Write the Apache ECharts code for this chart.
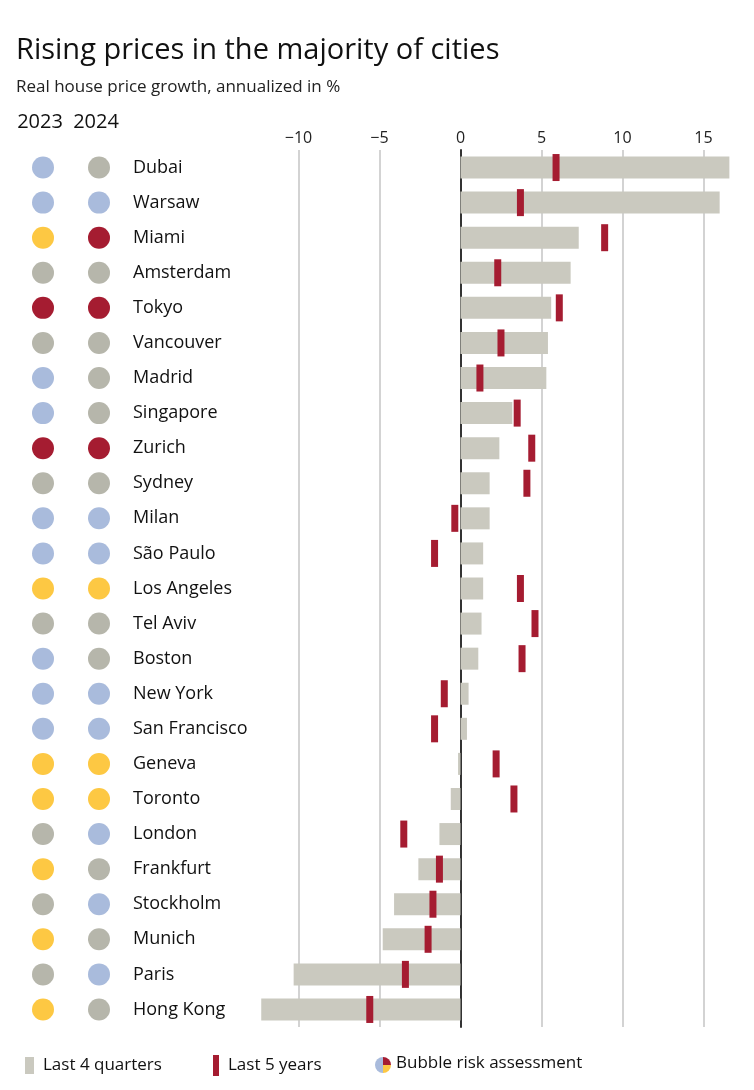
<!DOCTYPE html>
<html>
<head>
<meta charset="utf-8">
<script src="https://cdn.jsdelivr.net/npm/echarts@6/dist/echarts.min.js"></script>
<style>
  html, body { margin: 0; padding: 0; background: #fff; }
  #chart { width: 754px; height: 1090px; }
</style>
</head>
<body>
<div id="chart"></div>
<script>
const cities = ['Dubai', 'Warsaw', 'Miami', 'Amsterdam', 'Tokyo', 'Vancouver', 'Madrid', 'Singapore', 'Zurich', 'Sydney',
  'Milan', 'São Paulo', 'Los Angeles', 'Tel Aviv', 'Boston', 'New York', 'San Francisco', 'Geneva', 'Toronto',
  'London', 'Frankfurt', 'Stockholm', 'Munich', 'Paris', 'Hong Kong']
const last4q = [16.6, 16.0, 7.3, 6.8, 5.6, 5.4, 5.3, 3.2, 2.4, 1.8, 1.8, 1.4, 1.4, 1.3, 1.1, 0.5, 0.4, -0.15,
  -0.6, -1.3, -2.6, -4.1, -4.8, -10.3, -12.3]
const last5y = [5.9, 3.7, 8.9, 2.3, 6.1, 2.5, 1.2, 3.5, 4.4, 4.1, -0.35, -1.6, 3.7, 4.6, 3.8, -1.0, -1.6, 2.2,
  3.3, -3.5, -1.3, -1.7, -2.0, -3.4, -5.6]
// bubble risk: low / moderate / over(valued) / bubble
const risk2023 = ['low', 'low', 'over', 'mod', 'bubble', 'mod', 'low', 'low', 'bubble', 'mod', 'low', 'low', 'over',
  'mod', 'low', 'low', 'low', 'over', 'over', 'mod', 'over', 'mod', 'over', 'mod', 'over']
const risk2024 = ['mod', 'low', 'bubble', 'mod', 'bubble', 'mod', 'mod', 'mod', 'bubble', 'mod', 'low', 'low', 'over',
  'mod', 'mod', 'low', 'low', 'over', 'over', 'low', 'mod', 'low', 'mod', 'low', 'mod']
const years = ['2023', '2024']
const ticks = [-10, -5, 0, 5, 10, 15]

const riskColor = { low: '#a9bbdc', mod: '#b6b6ab', over: '#fdc843', bubble: '#a51c31' }
const font = '"Open Sans", sans-serif'

const chart = echarts.init(document.getElementById('chart'))

function dots(year, risks) {
  return cities.map((c, i) => ({ value: [year, c], itemStyle: { color: riskColor[risks[i]], opacity: 1 } }))
}

chart.setOption({
  animation: false,
  textStyle: { fontFamily: font, color: '#111' },
  title: {
    text: 'Rising prices in the majority of cities',
    subtext: 'Real house price growth, annualized in %',
    left: 11,
    top: 31,
    itemGap: 14,
    textStyle: { fontFamily: font, fontSize: 29, fontWeight: 'normal', color: '#111' },
    subtextStyle: { fontFamily: font, fontSize: 17, color: '#222' }
  },
  grid: [
    { left: 258, right: 23, top: 150, bottom: 63 },
    { left: 15, width: 112, top: 150, bottom: 63 }
  ],
  xAxis: [
    {
      type: 'value', gridIndex: 0, position: 'top',
      min: -12.5, max: 16.7,
      axisLine: { show: false },
      axisTick: { show: false, customValues: ticks },
      axisLabel: {
        customValues: ticks, margin: 4, fontSize: 16, color: '#222',
        formatter: v => String(v).replace('-', '\u2212')
      },
      splitLine: { show: true, lineStyle: { color: '#c4c4c4', width: 1.5 } }
    },
    {
      type: 'category', gridIndex: 1, position: 'top', data: years,
      axisLine: { show: false }, axisTick: { show: false },
      axisLabel: { interval: 0, margin: 18, fontSize: 20, color: '#111', padding: [0, 6, 0, 0] }
    }
  ],
  yAxis: [
    {
      type: 'category', gridIndex: 0, inverse: true, data: cities,
      axisLine: { show: true, onZero: true, lineStyle: { color: '#333', width: 2 } },
      axisTick: { show: false }, axisLabel: { show: false }, splitLine: { show: false }
    },
    {
      type: 'category', gridIndex: 1, inverse: true, data: cities, position: 'right',
      axisLine: { show: false }, axisTick: { show: false },
      axisLabel: { interval: 0, align: 'left', margin: 6, fontSize: 18, color: '#111' }
    }
  ],
  legend: [
    {
      left: 20, top: 1052, itemWidth: 9, itemHeight: 17, itemGap: 10,
      icon: 'rect', data: ['Last 4 quarters'],
      textStyle: { fontSize: 17, color: '#111', padding: [0, 0, 0, 4] }
    },
    {
      left: 208, top: 1050, itemWidth: 6, itemHeight: 21,
      icon: 'rect', data: ['Last 5 years'],
      textStyle: { fontSize: 17, color: '#111', padding: [0, 0, 0, 4] }
    }
  ],
  graphic: [
    {
      type: 'group', left: 375, top: 1055,
      children: [
        { type: 'sector', shape: { cx: 8, cy: 8, r: 8, startAngle: Math.PI / 2, endAngle: Math.PI * 1.5 }, style: { fill: riskColor.low } },
        { type: 'sector', shape: { cx: 8, cy: 8, r: 8, startAngle: Math.PI * 1.5, endAngle: Math.PI * 2 }, style: { fill: riskColor.bubble } },
        { type: 'sector', shape: { cx: 8, cy: 8, r: 8, startAngle: 0, endAngle: Math.PI / 2 }, style: { fill: riskColor.over } },
        { type: 'text', x: 21, y: -2, style: { text: 'Bubble risk assessment', fontSize: 17, fontFamily: font, fill: '#111' } }
      ]
    }
  ],
  series: [
    {
      name: 'Last 4 quarters', type: 'bar', xAxisIndex: 0, yAxisIndex: 0,
      data: last4q, barWidth: 22, itemStyle: { color: '#cac9bf' }
    },
    {
      name: 'Last 5 years', type: 'scatter', xAxisIndex: 0, yAxisIndex: 0,
      data: last5y.map((v, i) => [v, cities[i]]),
      symbol: 'rect', symbolSize: [7, 27], itemStyle: { color: '#a51c31', opacity: 1 }, z: 5
    },
    {
      name: '2023', type: 'scatter', xAxisIndex: 1, yAxisIndex: 1,
      data: dots('2023', risk2023), symbolSize: 22
    },
    {
      name: '2024', type: 'scatter', xAxisIndex: 1, yAxisIndex: 1,
      data: dots('2024', risk2024), symbolSize: 22
    }
  ]
})
</script>
</body>
</html>
